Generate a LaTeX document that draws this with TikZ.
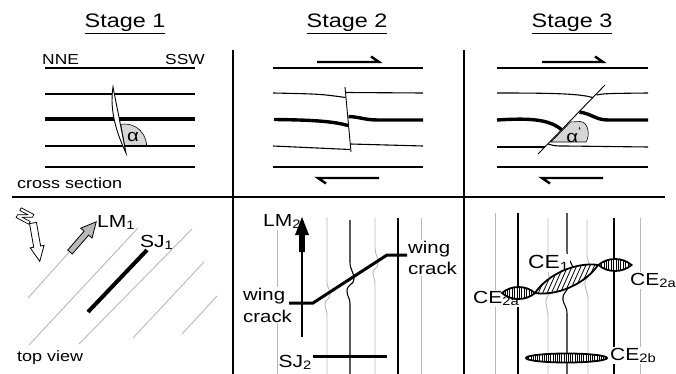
\documentclass[tikz,border=0pt]{standalone}
\usepackage{fontspec}
\setmainfont[FakeStretch=1.2]{Liberation Sans}
\definecolor{lightln}{gray}{0.72}
\definecolor{wedgegray}{gray}{0.84}
\definecolor{lmgray}{gray}{0.72}
\newcommand{\sizeto}[1]{\fontsize{#1}{#1}\selectfont}
% lens with half length #1 and half thickness #2, centred on the origin
\newcommand{\lenspath}[2]{(-#1,0) .. controls ({-#1*0.45},{-#2*1.333}) and ({#1*0.45},{-#2*1.333}) .. (#1,0) .. controls ({#1*0.45},{#2*1.333}) and ({-#1*0.45},{#2*1.333}) .. cycle}
\begin{document}
\begin{tikzpicture}[x=1pt,y=-1pt,
  frame/.style={line width=1.3pt},
  stratum/.style={line width=1.1pt},
  marker/.style={line width=3.4pt},
  harpoon/.style={line width=2.4pt, line join=miter},
  faultln/.style={line width=0.9pt},
  grayln/.style={lightln, line width=0.9pt},
  blackln/.style={black, line width=1.1pt},
  crackln/.style={line width=3pt},
  lensln/.style={line width=1.8pt},
  hatch/.style={line width=0.6pt},
  title/.style={font=\sizeto{19.5}, inner sep=0pt},
  lab/.style={inner sep=0pt, font=\sizeto{15}},
  big/.style={inner sep=1pt, font=\sizeto{17.5}, fill=white},
]
\useasboundingbox (0,0) rectangle (676,374);

% ---------- frame ----------
\draw[frame] (12,197) -- (665,197);
\draw[frame] (233,50) -- (233,374);
\draw[frame] (464,50) -- (464,374);

\node[title, anchor=base] (t1) at (125,28) {\underline{Stage 1}};
\node[title, anchor=base] (t2) at (347,28) {\underline{Stage 2}};
\node[title, anchor=base] (t3) at (572,28) {\underline{Stage 3}};

% ---------- stage 1, cross section ----------
\node[lab, font=\sizeto{14.5}, anchor=base west] (nne) at (42,65) {NNE};
\node[lab, font=\sizeto{14.5}, anchor=base east] (ssw) at (205,65) {SSW};
\filldraw[fill=wedgegray, line width=0.6pt] (124.6,146) -- (146.6,146) arc[start angle=0, end angle=-100, radius=22] -- cycle;
\foreach \y in {68,94,146,167} \draw[stratum] (45,\y) -- (195,\y);
\draw[marker] (45,119) -- (195,119);
\filldraw[fill=white, faultln] (113,87) .. controls (109,112) and (118,136) .. (126,153) -- cycle;
\node[lab, font=\sizeto{17}] (alpha1) at (133,137) {α};
\node[lab, anchor=base west] (xsec) at (17,188) {cross section};

% ---------- stage 2, cross section ----------
\draw[harpoon] (317,62) -- (379,62) -- (371,56.5);
\draw[harpoon] (379,178) -- (318,178) -- (326,183.5);
\draw[stratum] (273,68) -- (423,68);
\draw[stratum] (273,167) -- (423,167);
\draw[stratum] (273,93) .. controls (320,94) .. (345.6,97.5);
\draw[stratum] (346,92.5) -- (423,93);
\draw[marker] (274,119.5) .. controls (320,120) and (335,122) .. (348,125.5);
\draw[marker] (348.5,116.5) .. controls (360,117) and (365,120) .. (378,120) -- (423,120);
\draw[stratum] (273,146) -- (350,149.5);
\draw[stratum] (350.5,144) -- (423,146);
\draw[faultln] (345,87) -- (351,152);

% ---------- stage 3, cross section ----------
\draw[harpoon] (542,62) -- (603,62) -- (595,56.5);
\draw[harpoon] (603,178) -- (542,178) -- (550,183.5);
\draw[stratum] (497,68) -- (648,68);
\draw[stratum] (497,167) -- (648,167);
\draw[stratum] (497,93) .. controls (560,93) and (580,94) .. (592.5,97.5);
\draw[stratum] (596.5,95) .. controls (605,93.5) .. (648,93);
\draw[marker] (497,120) .. controls (530,118) and (549,119) .. (562,130);
\draw[marker] (579.5,112) .. controls (592,114) and (596,120) .. (608,120) -- (648,120);
\draw[stratum] (497,147) -- (545,147);
\draw[stratum] (548,144) .. controls (555,146) .. (565,146) -- (648,147);
\filldraw[fill=wedgegray, line width=0.6pt] (551,142) -- (570.5,122) -- (580,121.5) .. controls (589,122) and (590,136) .. (586,142) -- cycle;
\draw[faultln] (538,154) -- (605,85);
\node[lab, font=\sizeto{17}] (alpha3) at (574,135) {α\textsuperscript{‘}};

% ---------- stage 1, top view ----------
\draw[grayln] (28,298) -- (72,249);
\draw[grayln] (29,345) -- (138,228);
\draw[grayln] (79,344) -- (192,229);
\draw[grayln] (133,338) -- (204,262);
\draw[grayln] (182,334) -- (217,296);
\draw[line width=4pt] (88,312) -- (147,250);
% LM1 block arrow
\begin{scope}[shift={(70,252)}, rotate=49]
  \draw[fill=lmgray, line width=0.8pt, line join=miter] (0,-3) -- (25,-3) -- (25,-7.5) -- (40,0) -- (25,7.5) -- (25,3) -- (0,3) -- cycle;
\end{scope}
% north arrow and its hollow letter
\begin{scope}[shift={(33,223)}, rotate=-80]
  \draw[fill=white, line width=0.8pt, line join=miter] (0,-3.5) -- (24,-3.5) -- (24,-7) -- (39,0) -- (24,7) -- (24,3.5) -- (0,3.5) -- cycle;
\end{scope}
\begin{scope}[shift={(25,216)}, rotate=62, scale=1.1]
  \draw[fill=white, line width=0.7pt, line join=miter] (-5,-6.5) -- (-2.2,-6.5) -- (2.2,1.5) -- (2.2,-6.5) -- (5,-6.5) -- (5,6.5) -- (2.2,6.5) -- (-2.2,-1.5) -- (-2.2,6.5) -- (-5,6.5) -- cycle;
\end{scope}
\node[lab, font=\sizeto{17.5}, anchor=base west] (lm1) at (97,227) {LM\textsubscript{1}};
\node[lab, font=\sizeto{17.5}, anchor=base west] (sj1) at (140,247) {SJ\textsubscript{1}};
\node[lab, anchor=base west] (topview) at (17,361) {top view};

% ---------- stage 2, top view ----------
\draw[grayln] (277,218) -- (277,374);
\draw[grayln] (327,217) -- (327,282) .. controls (327,288) and (330,289) .. (330,294) .. controls (330,300) and (325,299) .. (325,304) .. controls (325,309) and (327,309) .. (327,315) -- (327,374);
\draw[blackln] (350,220) -- (350,262) .. controls (350,270) and (354,272) .. (354,279) .. controls (354,285) and (347,284) .. (347,291) .. controls (347,297) and (350,297) .. (350,304) -- (350,374);
\draw[grayln] (375,218) -- (375,248) .. controls (375,255) and (378,256) .. (378,263) .. controls (378,269) and (373,268) .. (373,273) .. controls (373,278) and (375,278) .. (375,284) -- (375,374);
\draw[blackln] (398,218) -- (398,374);
\draw[grayln] (421,218) -- (421,374);
\node[big, align=left, anchor=west, font=\fontsize{17}{22}\selectfont] (wing1) at (242,305) {wing\\crack};
\node[big, align=left, anchor=west, font=\fontsize{17}{21}\selectfont] (wing2) at (407,258) {wing\\crack};
\node[big, anchor=base west] (lm2) at (262,226) {LM\textsubscript{2}};
\draw[line width=1.2pt] (302,337) -- (302,252);
\begin{scope}[shift={(302,252)}, rotate=90]
  \fill (0,-2.8) -- (17,-2.8) -- (17,-7) -- (35,0) -- (17,7) -- (17,2.8) -- (0,2.8) -- cycle;
\end{scope}
\draw[crackln] (289,303) -- (313,303) -- (387,255) -- (407,255);
\node[big, anchor=base east, inner sep=0pt] (sj2) at (312,367) {SJ\textsubscript{2}};
\draw[crackln] (313,356) -- (387,356);

% ---------- stage 3, top view ----------
\draw[grayln] (495,213) -- (495,374);
\draw[blackln] (518,213) -- (518,374);
\draw[grayln] (548,218) -- (548,270) .. controls (548,278) and (552,280) .. (550,290) .. controls (548,298) and (545,298) .. (546,304) .. controls (547,310) and (548,310) .. (548,318) -- (548,374);
\draw[blackln] (567,213) -- (567,252) .. controls (567,262) and (577,264) .. (572,280) .. controls (568,292) and (562,292) .. (563,300) .. controls (564,306) and (567,306) .. (567,314) -- (567,374);
\draw[grayln] (587,220) -- (587,255) .. controls (587,262) and (591,263) .. (590,270) .. controls (588,280) and (584,278) .. (585,285) .. controls (586,292) and (588,292) .. (588,300) -- (588,374);
\draw[blackln] (614,218) -- (614,374);
\draw[grayln] (640,218) -- (640,374);

\node[big, font=\sizeto{19}, anchor=base west] (ce1) at (527,268) {CE\textsubscript{1}};
\node[big, anchor=base west] (ce2aL) at (472,303) {CE\textsubscript{2a}};
\node[big, anchor=base west] (ce2aR) at (629,285) {CE\textsubscript{2a}};
\node[big, anchor=base west] (ce2b) at (609,360) {CE\textsubscript{2b}};

% CE1: obliquely hatched lens
\begin{scope}[shift={(566.5,279)}, rotate=24]
  \fill[white] \lenspath{34.5}{9};
  \begin{scope}
    \clip \lenspath{34.5}{9};
    \foreach \t in {-48,-42,...,48} \draw[line width=0.8pt] (\t-10,9) -- (\t+10,-9);
  \end{scope}
  \draw[lensln] \lenspath{34.5}{9};
\end{scope}
% CE2a: vertically hatched lenses
\foreach \cx/\cy in {518.5/293, 615/265} {
  \begin{scope}[shift={(\cx,\cy)}]
    \fill[white] \lenspath{16.5}{6};
    \begin{scope}
      \clip \lenspath{16.5}{6};
      \foreach \x in {-16,-13.6,...,16} \draw[hatch] (\x,-8) -- (\x,8);
    \end{scope}
    \draw[lensln] \lenspath{16.5}{6};
  \end{scope}
}
% CE2b: densely hatched ellipse
\begin{scope}[shift={(566.5,358)}]
  \fill[white] (0,0) ellipse [x radius=40.5, y radius=4.5];
  \begin{scope}
    \clip (0,0) ellipse [x radius=40.5, y radius=4.5];
    \foreach \x in {-40,-37.8,...,40} \draw[line width=0.8pt] (\x,-6) -- (\x,6);
  \end{scope}
  \draw[lensln] (0,0) ellipse [x radius=40.5, y radius=4.5];
\end{scope}
\end{tikzpicture}
\end{document}
